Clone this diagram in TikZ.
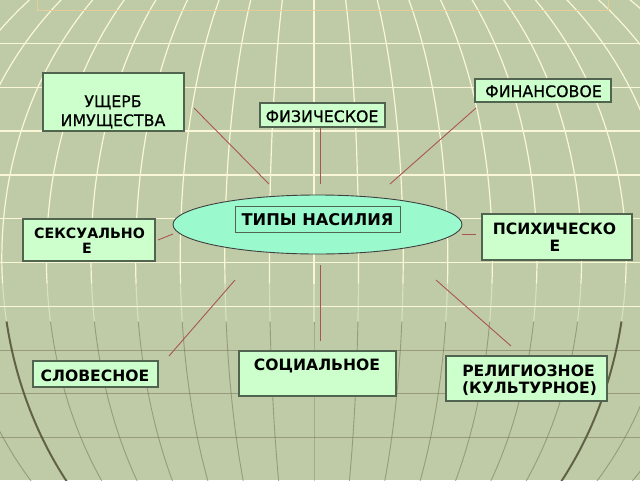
\documentclass[tikz,border=0pt]{standalone}
\usepackage{fontspec}
\setmainfont{DejaVu Sans}
\newfontfamily\medfont[FakeBold=0.5]{DejaVu Sans}
\usetikzlibrary{shapes.geometric}
\definecolor{bg}{RGB}{190,203,166}
\definecolor{gridw}{RGB}{250,247,215}
\definecolor{gridd}{RGB}{125,122,95}
\definecolor{gridk}{RGB}{85,85,60}
\definecolor{boxfill}{RGB}{204,255,204}
\definecolor{boxline}{RGB}{80,100,80}
\definecolor{ellfill}{RGB}{155,250,205}
\definecolor{conn}{RGB}{170,85,85}
\definecolor{titleln}{RGB}{228,205,150}
\tikzset{
  box/.style={draw=boxline, line width=1.1pt, fill=boxfill, rectangle, inner sep=0pt},
  txtb/.style={font=\bfseries\fontsize{15.6}{19}\selectfont, inner sep=0pt, anchor=base, text=black},
  txtr/.style={font=\medfont\fontsize{15.8}{19}\selectfont, inner sep=0pt, anchor=base, text=black},
  conline/.style={draw=conn, line width=0.9pt},
  merw/.style={draw=gridw, line width=1.2pt},
  merd/.style={draw=gridd, line width=0.9pt, opacity=0.6},
  park/.style={draw=gridw, line width=1.3pt},
  pard/.style={draw=gridd, line width=1pt, opacity=0.6},
}
\begin{document}
\begin{tikzpicture}[x=1pt,y=-1pt]
\useasboundingbox (0,0) rectangle (640,480);
\begin{scope}
\clip (0,0) rectangle (640,480);
\fill[bg] (0,0) rectangle (640,480);
% parallels
\foreach \i in {0,...,6}{
  \draw[park] (0,{43.5+43.8*\i}) -- (640,{43.5+43.8*\i});
}
\foreach \i in {7,...,9}{
  \draw[pard] (0,{43.5+43.8*\i}) -- (640,{43.5+43.8*\i});
}
% meridians
\foreach \k in {-10,...,10}{
  \draw[merw] plot[domain=48:-4,samples=50,variable=\t] ({314+44.6*(\k)*cos(\t)},{258-366*sin(\t)});
  \draw[merw,opacity=0.45] plot[domain=-4:-10,samples=10,variable=\t] ({314+44.6*(\k)*cos(\t)},{258-366*sin(\t)});
  \draw[merd] plot[domain=-10:-42,samples=40,variable=\t] ({314+44.6*(\k)*cos(\t)},{258-366*sin(\t)});
}
\foreach \k in {-7,7}{
  \draw[draw=gridk, line width=2pt, opacity=0.85] plot[domain=-10:-42,samples=40,variable=\t] ({314+44.6*(\k)*cos(\t)},{258-366*sin(\t)});
}
\draw[titleln, line width=1pt] (37,-2) rectangle (608,10);
\end{scope}

% centre
\node[ellipse, draw=black!75, line width=0.9pt, fill=ellfill, minimum width=289pt, minimum height=59pt, inner sep=0pt] (center) at (317.5,224.5) {};
\node[draw=boxline, line width=0.9pt, rectangle, minimum width=165pt, minimum height=26pt, inner sep=0pt] (centerbox) at (317.5,219) {};
\node[txtb, font=\bfseries\fontsize{16.2}{19}\selectfont] (centert) at (317.5,225.5) {ТИПЫ НАСИЛИЯ};

% boxes
\node[box, minimum width=141pt, minimum height=58pt] (usch) at (113.5,102) {};
\node[txtr] (uscht1) at (113,107) {УЩЕРБ};
\node[txtr] (uscht2) at (113,126) {ИМУЩЕСТВА};

\node[box, minimum width=125pt, minimum height=24pt] (fiz) at (322.5,115) {};
\node[txtr] (fizt) at (322,122) {ФИЗИЧЕСКОЕ};

\node[box, minimum width=136pt, minimum height=23pt] (fin) at (543,90.5) {};
\node[txtr] (fint) at (543.5,97) {ФИНАНСОВОЕ};

\node[box, minimum width=132pt, minimum height=42pt] (seks) at (89,240) {};
\node[txtb, font=\bfseries\fontsize{14.2}{17}\selectfont] (sekst1) at (89.5,238) {СЕКСУАЛЬНО};
\node[txtb, font=\bfseries\fontsize{14.2}{17}\selectfont] (sekst2) at (87,253) {Е};

\node[box, minimum width=150pt, minimum height=46pt] (psih) at (557,237) {};
\node[txtb] (psiht1) at (554.5,234) {ПСИХИЧЕСКО};
\node[txtb] (psiht2) at (555,251.5) {Е};

\node[box, minimum width=125pt, minimum height=26pt] (slov) at (95.5,374) {};
\node[txtb] (slovt) at (95,381.5) {СЛОВЕСНОЕ};

\node[box, minimum width=157pt, minimum height=45pt] (soc) at (317.5,373.5) {};
\node[txtb] (soct) at (317,370) {СОЦИАЛЬНОЕ};

\node[box, minimum width=161pt, minimum height=45pt] (rel) at (526.5,378.5) {};
\node[txtb] (relt1) at (528.5,376.5) {РЕЛИГИОЗНОЕ};
\node[txtb] (relt2) at (529.5,393) {(КУЛЬТУРНОЕ)};

% connector ends
\coordinate (c1a) at (269,184); \coordinate (c1b) at (194,108);
\coordinate (c2a) at (320,184); \coordinate (c2b) at (320,128);
\coordinate (c3a) at (390,184); \coordinate (c3b) at (476,108);
\coordinate (c4a) at (173,234); \coordinate (c4b) at (158,240);
\coordinate (c5a) at (462,234); \coordinate (c5b) at (476,234);
\coordinate (c6a) at (235,280); \coordinate (c6b) at (169,356);
\coordinate (c7a) at (320,265); \coordinate (c7b) at (320,341);
\coordinate (c8a) at (436,280); \coordinate (c8b) at (511,346);
\foreach \n in {1,...,8}{ \draw[conline] (c\n a) -- (c\n b); }
\end{tikzpicture}
\end{document}
